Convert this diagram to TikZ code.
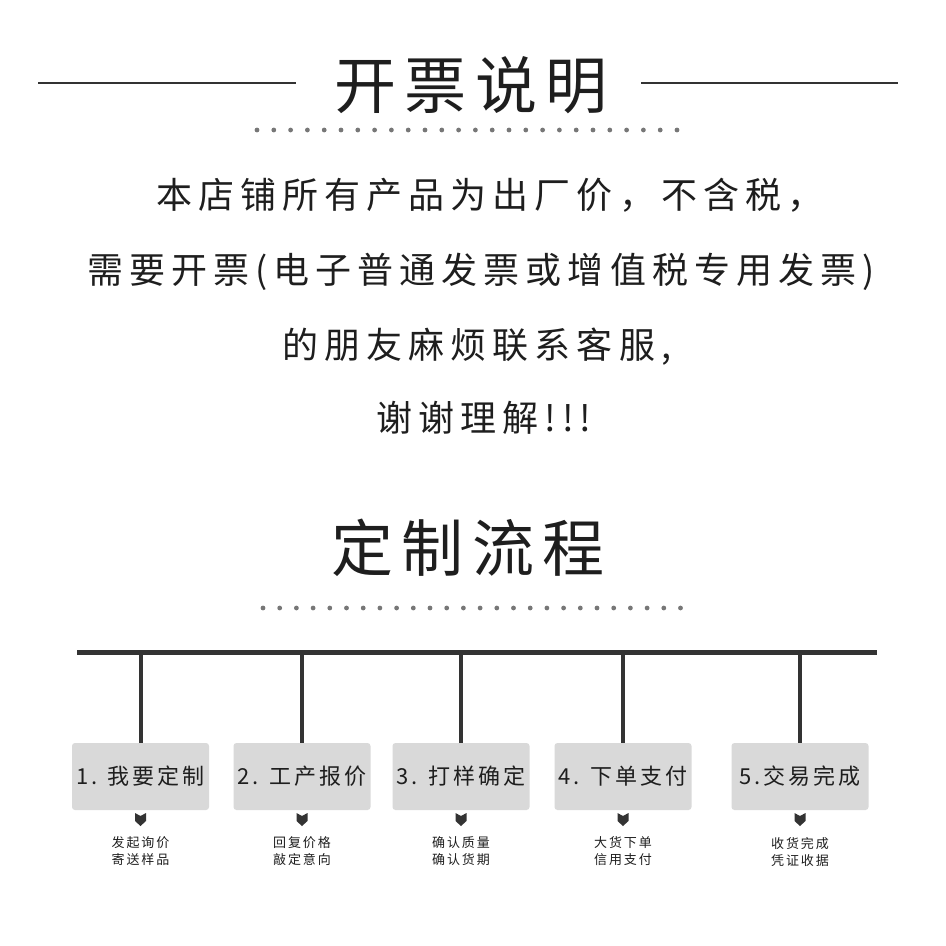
\documentclass[tikz,border=0pt]{standalone}
\usepackage{fontspec}
\newfontfamily\cjk{Noto Sans CJK SC}
\usepackage{xcolor}
\definecolor{ink-black}{HTML}{1E1E1E}
\definecolor{rule-grey}{HTML}{333333}
\definecolor{dot-grey}{HTML}{777777}
\definecolor{box-grey}{HTML}{D9D9D9}
\usepackage{tikz}

\tikzset{
    headline/.style={text=ink-black, inner sep=0, font=\cjk\fontsize{62}{62}\selectfont\addfontfeatures{LetterSpace=13}},
    bodyline/.style={text=ink-black, inner sep=0, font=\cjk\fontsize{36}{36}\selectfont\addfontfeatures{LetterSpace=16.7}},
    stepbox/.style={fill=box-grey, rounded corners=3, minimum width=137, minimum height=67, inner sep=0, text=ink-black, font=\cjk\fontsize{22}{22}\selectfont\addfontfeatures{LetterSpace=13}},
    stepnote/.style={align=center, inner sep=0, text=ink-black, font=\cjk\fontsize{13}{17}\selectfont\addfontfeatures{LetterSpace=15}},
    rule/.style={rule-grey, line width=2.5},
    bar/.style={rule-grey, line width=5},
    stem/.style={rule-grey, line width=4},
    notch/.pic={\fill[rule-grey] (-5.5, 0) -- (0, 3) -- (5.5, 0) -- (5.5, 8) -- (0, 13) -- (-5.5, 8) -- cycle;}
}

\begin{document}
\begin{tikzpicture}[x=1pt, y=-1pt]

    % Canvas
    \useasboundingbox[fill=white] (0, 0) rectangle (946, 946);

    % Invoice heading
    \node[headline] (invoice) at (471, 85) {开票说明};
    \draw[rule] (38, 83) -- (296, 83);
    \draw[rule] (641, 83) -- (898, 83);
    \foreach \k in {0, ..., 25}
        \fill[dot-grey] (257 + \k * 16.8, 130) circle (2.4);

    % Invoice notes
    \node[bodyline] (line1) at (490, 195) {本店铺所有产品为出厂价，不含税，};
    \node[bodyline] (line2) at (481, 272) {需要开票(电子普通发票或增值税专用发票)};
    \node[bodyline] (line3) at (477, 347) {的朋友麻烦联系客服,};
    \node[bodyline] (line4) at (484, 418) {谢谢理解!!!};

    % Process heading
    \node[headline] (process) at (468, 548) {定制流程};
    \foreach \k in {0, ..., 25}
        \fill[dot-grey] (263 + \k * 16.7, 608) circle (2.4);

    % Bar
    \coordinate (bar-left) at (77, 652);
    \coordinate (bar-right) at (877, 652);
    \draw[bar] (bar-left) -- (bar-right);

    % Steps
    \foreach \i/\x/\name/\upper/\lower in {
        1/140.5/{1. 我要定制}/发起询价/寄送样品,
        2/302/{2. 工产报价}/回复价格/敲定意向,
        3/461/{3. 打样确定}/确认质量/确认货期,
        4/623/{4. 下单支付}/大货下单/信用支付,
        5/800/{5.交易完成}/收货完成/凭证收据} {
        \node[stepbox] (step\i) at (\x, 776.5) {\name};
        \draw[stem] (step\i.north) -- (step\i.north |- bar-left);
        \pic at (\x, 813) {notch};
        \node[stepnote] (note\i) at (\x, 851.5) {\upper\\\lower};
    }

\end{tikzpicture}
\end{document}
